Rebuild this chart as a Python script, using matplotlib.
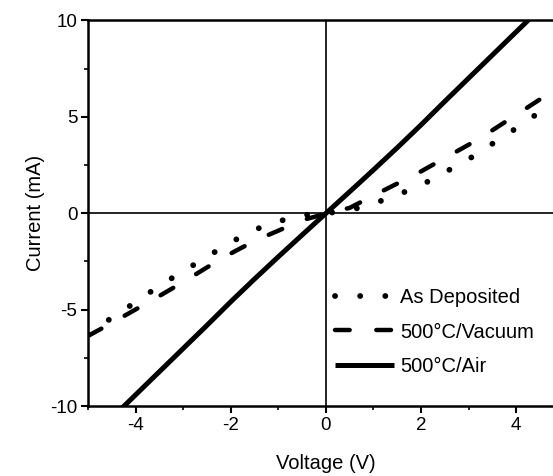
"""I-V curves of the films: as deposited and after 500 C anneals."""
import matplotlib
matplotlib.use("Agg")
import matplotlib.pyplot as plt
from matplotlib.ticker import MultipleLocator

plt.rcParams["font.family"] = ["Liberation Sans", "DejaVu Sans"]
plt.rcParams["axes.unicode_minus"] = False

# ---- data --------------------------------------------------------------- #
volt = [-5, -4.5, -4, -3.5, -3, -2.5, -2, -1.5, -1, -0.5, 0,
        0.5, 1, 1.5, 2, 2.5, 3, 3.5, 4, 4.5, 5]
i_deposited = [-6.3, -5.4, -4.6, -3.75, -3.0, -2.25, -1.5, -0.85, -0.42, -0.1, 0,
               0.15, 0.5, 0.95, 1.45, 2.12, 2.8, 3.6, 4.4, 5.25, 6.1]
i_vacuum = [-6.35, -5.68, -4.98, -4.28, -3.56, -2.8, -2.08, -1.43, -0.9, -0.36, -0.02,
            0.28, 0.92, 1.54, 2.17, 2.86, 3.55, 4.3, 5.1, 5.9, 6.7]
volt_air = [-4.5, -4, -3.5, -3, -2.5, -2, -1.5, -1, -0.5, 0,
            0.5, 1, 1.5, 2, 2.5, 3, 3.5, 4, 4.5]
i_air = [-10.6, -9.4, -8.2, -7.0, -5.8, -4.58, -3.4, -2.25, -1.12, 0,
         1.12, 2.25, 3.4, 4.58, 5.8, 7.0, 8.2, 9.4, 10.6]

labels = ["As Deposited", "500°C/Vacuum", "500°C/Air"]

# ---- figure --------------------------------------------------------------- #
fig = plt.figure(figsize=(5.53, 4.76), dpi=100)
# right edge of the original plot is cut off by the image border
ax = fig.add_axes([0.160, 0.147, 0.859, 0.810])

ax.axhline(0, color="black", lw=1.2, zorder=1)
ax.axvline(0, color="black", lw=1.2, zorder=1)

ax.plot(volt, i_deposited, color="black", lw=4.2, ls=(0, (0.01, 4.3)),
        dash_capstyle="round", label=labels[0], zorder=3)
ax.plot(volt, i_vacuum, color="black", lw=3.2, ls=(0, (3.3, 6.0)),
        dash_capstyle="round", label=labels[1], zorder=3)
ax.plot(volt_air, i_air, color="black", lw=3.6, ls="-",
        solid_capstyle="butt", solid_joinstyle="round", label=labels[2], zorder=3)

ax.set_xlim(-5, 5)
ax.set_ylim(-10, 10)
ax.xaxis.set_major_locator(MultipleLocator(2))
ax.xaxis.set_minor_locator(MultipleLocator(1))
ax.yaxis.set_major_locator(MultipleLocator(5))
ax.yaxis.set_minor_locator(MultipleLocator(2.5))
ax.tick_params(which="major", direction="out", length=5, width=1.5,
               labelsize=13.5, pad=3)
ax.tick_params(which="minor", direction="out", length=3, width=1.2)
ax.tick_params(axis="x", which="both", top=False)
ax.tick_params(axis="y", which="both", right=False)
for side in ["left", "bottom", "top"]:
    ax.spines[side].set_linewidth(1.8)
ax.spines["right"].set_visible(False)

ax.set_xlabel("Voltage (V)", fontsize=14.5, labelpad=14)
ax.set_ylabel("Current (mA)", fontsize=14.5, labelpad=4)

ax.legend(loc="upper left", bbox_to_anchor=(0.52, 0.305), frameon=False,
          fontsize=14.5, handlelength=2.9, handletextpad=0.3,
          labelspacing=0.75, borderpad=0, borderaxespad=0)

fig.savefig("out.png", dpi=100)
